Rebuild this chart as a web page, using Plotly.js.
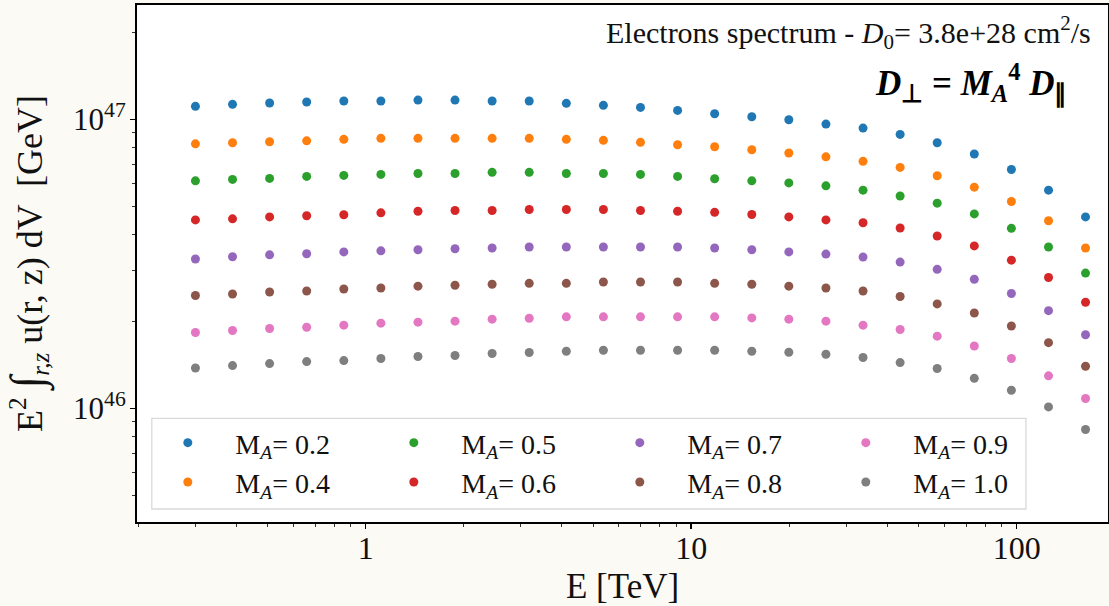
<!DOCTYPE html>
<html>
<head>
<meta charset="utf-8">
<script src="https://cdn.plot.ly/plotly-3.0.1.min.js"></script>
<style>
  html, body { margin: 0; padding: 0; background: rgb(252,250,245); }
  #chart { width: 1109px; height: 606px; }
</style>
</head>
<body>
<div id="chart"></div>
<script>
// Energies [TeV]
var energy = [0.3, 0.39, 0.507, 0.659, 0.857, 1.114, 1.448, 1.882, 2.447, 3.181, 4.136, 5.376, 6.989,
              9.086, 11.81, 15.36, 19.96, 25.95, 33.74, 43.86, 57.01, 74.12, 96.35, 125.3, 162.8];

// Series values in units of 1e46 GeV
var MA_02 = [11.09, 11.27, 11.39, 11.48, 11.57, 11.57, 11.66, 11.66, 11.57, 11.57, 11.36, 11.18, 11.00,
             10.74, 10.46, 10.21, 9.97, 9.63, 9.33, 8.87, 8.30, 7.59, 6.71, 5.69, 4.60];
var MA_04 = [8.23, 8.30, 8.37, 8.43, 8.53, 8.60, 8.60, 8.60, 8.60, 8.60, 8.53, 8.46, 8.33,
             8.17, 8.04, 7.85, 7.65, 7.42, 7.16, 6.82, 6.38, 5.83, 5.20, 4.46, 3.59];
var MA_05 = [6.13, 6.20, 6.25, 6.35, 6.40, 6.45, 6.50, 6.50, 6.56, 6.56, 6.50, 6.50, 6.45,
             6.35, 6.23, 6.13, 6.03, 5.89, 5.69, 5.43, 5.13, 4.71, 4.20, 3.62, 2.94];
var MA_06 = [4.49, 4.53, 4.60, 4.64, 4.68, 4.75, 4.81, 4.84, 4.84, 4.88, 4.88, 4.88, 4.84,
             4.81, 4.77, 4.69, 4.60, 4.49, 4.39, 4.21, 3.95, 3.65, 3.26, 2.84, 2.33];
var MA_07 = [3.29, 3.35, 3.40, 3.43, 3.48, 3.51, 3.54, 3.57, 3.59, 3.62, 3.62, 3.62, 3.62,
             3.62, 3.59, 3.54, 3.48, 3.42, 3.34, 3.21, 3.03, 2.80, 2.50, 2.18, 1.80];
var MA_08 = [2.46, 2.49, 2.53, 2.55, 2.59, 2.61, 2.65, 2.67, 2.69, 2.71, 2.71, 2.74, 2.74,
             2.74, 2.71, 2.69, 2.65, 2.61, 2.55, 2.44, 2.30, 2.14, 1.93, 1.69, 1.40];
var MA_09 = [1.832, 1.862, 1.891, 1.911, 1.942, 1.973, 1.989, 2.005, 2.037, 2.053, 2.075, 2.075, 2.075,
             2.075, 2.075, 2.058, 2.037, 2.005, 1.942, 1.877, 1.779, 1.646, 1.489, 1.297, 1.083];
var MA_10 = [1.381, 1.408, 1.430, 1.453, 1.465, 1.489, 1.513, 1.525, 1.550, 1.562, 1.578, 1.591, 1.591,
             1.591, 1.591, 1.578, 1.566, 1.541, 1.501, 1.442, 1.375, 1.272, 1.157, 1.013, 0.846];
var UNIT = 1e46;

var maLabels = ["0.2", "0.4", "0.5", "0.6", "0.7", "0.8", "0.9", "1.0"];
var seriesList = [MA_02, MA_04, MA_05, MA_06, MA_07, MA_08, MA_09, MA_10];
var colors = ["#1f77b4", "#ff7f0e", "#2ca02c", "#d62728", "#9467bd", "#8c564b", "#e377c2", "#7f7f7f"];

var xTickVals = [1, 10, 100];
var xTickText = ["1", "10", "100"];
var yTickVals = [1e46, 1e47];
var yTickText = ["10<sup>46</sup>", "10<sup>47</sup>"];

var FONT = "Liberation Serif, Times New Roman, serif";

var traces = seriesList.map(function (vals, i) {
  return {
    type: "scatter",
    mode: "markers",
    x: energy,
    y: vals.map(function (v) { return v * UNIT; }),
    name: "M<sub><i>A</i></sub>= " + maLabels[i],
    legend: (i % 2 === 0) ? "legend" : "legend2",
    marker: { color: colors[i], size: 9, line: { width: 0 } },
    hoverinfo: "x+y+name"
  };
});

var legendCommon = {
  orientation: "h",
  xref: "paper", yref: "paper",
  xanchor: "left", yanchor: "top",
  x: 0.0034,
  bgcolor: "rgba(0,0,0,0)",
  borderwidth: 0,
  itemwidth: 85,
  entrywidth: 126,
  font: { family: FONT, size: 28, color: "#111" }
};

var layout = {
  width: 1109, height: 606,
  margin: { l: 137, r: 1, t: 5, b: 84 },
  paper_bgcolor: "rgb(252,250,245)",
  plot_bgcolor: "#ffffff",
  showlegend: true,
  legend: Object.assign({}, legendCommon, { y: 0.2012 }),
  legend2: Object.assign({}, legendCommon, { y: 0.1251 }),
  xaxis: {
    type: "log",
    range: [-0.7024, 2.2807],
    tickmode: "array",
    tickvals: xTickVals,
    ticktext: xTickText,
    ticks: "outside", ticklen: 5, tickwidth: 1.5, tickcolor: "#000",
    ticklabelstandoff: -8,
    minor: { ticks: "outside", ticklen: 3, tickwidth: 1, tickcolor: "#333", dtick: "D1", showgrid: false },
    showgrid: false, zeroline: false,
    showline: true, linecolor: "#000", linewidth: 2, mirror: true,
    tickfont: { family: FONT, size: 32, color: "#111" },
    title: { text: "E [TeV]", font: { family: FONT, size: 35, color: "#111" }, standoff: 16 }
  },
  yaxis: {
    type: "log",
    range: [45.6076, 47.3955],
    tickmode: "array",
    tickvals: yTickVals,
    ticktext: yTickText,
    ticks: "outside", ticklen: 5, tickwidth: 1.5, tickcolor: "#000",
    ticklabelstandoff: -2,
    minor: { ticks: "outside", ticklen: 3, tickwidth: 1, tickcolor: "#333", dtick: "D1", showgrid: false },
    showgrid: false, zeroline: false,
    showline: true, linecolor: "#000", linewidth: 2, mirror: true,
    tickfont: { family: FONT, size: 31, color: "#111" },
    title: {
      text: "E<sup>2</sup> <span style=\"font-size:46px\">∫</span><sub><i>r,z</i></sub> u(r, z) dV  [GeV]",
      font: { family: FONT, size: 36, color: "#111" }, standoff: 20
    }
  },
  shapes: [{
    type: "rect", xref: "paper", yref: "paper",
    x0: 0.01524, x1: 0.9155, y0: 0.02515, y1: 0.2006,
    line: { color: "#d9d9d9", width: 1.3 },
    fillcolor: "rgba(255,255,255,0.8)",
    layer: "below"
  }],
  annotations: [
    {
      xref: "paper", yref: "paper", x: 0.9846, y: 0.946,
      xanchor: "right", yanchor: "middle", showarrow: false,
      text: "Electrons spectrum - <i>D</i><sub>0</sub>= 3.8e+28 cm<sup>2</sup>/s",
      font: { family: FONT, size: 30, color: "#111" }
    },
    {
      xref: "paper", yref: "paper", x: 0.9598, y: 0.85,
      xanchor: "right", yanchor: "middle", showarrow: false,
      text: "<b><i>D</i><sub>⊥</sub> = <i>M</i><sub><i>A</i></sub><sup>4</sup> <i>D</i><sub>∥</sub></b>",
      font: { family: FONT, size: 35, color: "#000" }
    }
  ]
};

Plotly.newPlot("chart", traces, layout, { displayModeBar: false, staticPlot: true });
</script>
</body>
</html>
